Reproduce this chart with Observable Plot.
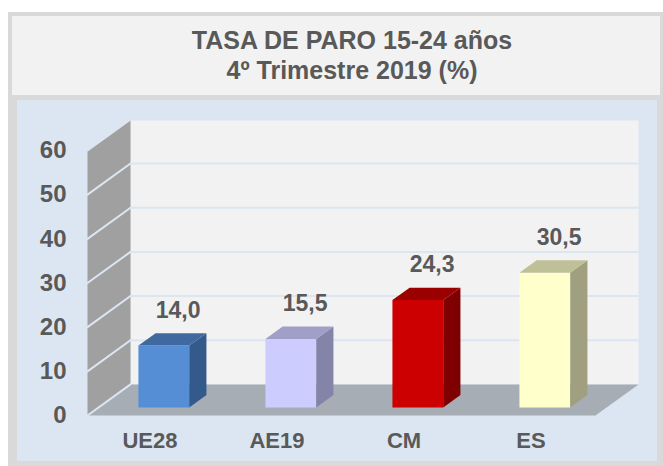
<!DOCTYPE html>
<html><head><meta charset="utf-8">
<script src="https://cdn.jsdelivr.net/npm/d3@7"></script>
<script src="https://cdn.jsdelivr.net/npm/@observablehq/plot@0.6"></script>
<style>
html,body{margin:0;padding:0;background:#fff;overflow:hidden}
#wrap{position:relative;width:663px;height:466px;font-family:"Liberation Sans",Arial,sans-serif}
#frame{position:absolute;left:8px;top:12px;right:0;bottom:0;background:#d9d9d9}
#title{position:absolute;left:12px;top:16px;width:648px;height:79px;background:#f2f2f2;color:#595959;
 font-weight:bold;font-size:25px;line-height:30px;text-align:center;box-sizing:border-box;padding-top:9px;padding-left:32px}
#panel{position:absolute;left:17px;top:100px;width:640px;height:361px;background:#dce6f2}
svg{display:block;background:transparent}
</style></head><body>
<div id="wrap"><div id="frame"></div>
<div id="title">TASA DE PARO 15-24 años<br>4º Trimestre 2019 (%)</div>
<div id="panel"></div></div>
<script>
const categories = ["UE28","AE19","CM","ES"];
const values = [14.0,15.5,24.3,30.5];
const valueLabels = ["14,0","15,5","24,3","30,5"];
const yTicks = [0,10,20,30,40,50,60];
const frontColors = ["#558ed5","#ccccff","#cc0000","#ffffcc"];
const topColors = ["#40699f","#9f9fc8","#9b0000","#c0c098"];
const sideColors = ["#335a8a","#8484a8","#7f0000","#a0a080"];

// Oblique projection: depth z (0 front, 1 back) shifts a point in data units.
const depthX = 43/127, depthY = 31/4.4;
const P = (x,v,z) => ({x: x + z*depthX, y: v + z*depthY});
const poly = (pts, fill) => Plot.line(pts.map(p => P(...p)), {x:"x", y:"y", fill, stroke:"none"});
const seg = (a,b,stroke,w) => Plot.line([P(...a),P(...b)], {x:"x", y:"y", stroke, strokeWidth:w});

const barL = 0.313, barR = 0.713, z0 = 0.26, z1 = 0.66;
const grid = "#dce6f2";
const marks = [
  poly([[0,0,1],[4,0,1],[4,60,1],[0,60,1]], "#f2f2f2"),
  poly([[0,0,0],[0,0,1],[0,60,1],[0,60,0]], "#a0a0a0"),
  poly([[0,0,0],[4,0,0],[4,0,1],[0,0,1]], "#a6adb5"),
];
for (const v of yTicks.slice(1)) {
  marks.push(seg([0,v,1],[4,v,1],grid,2));
}
for (const v of yTicks) {
  marks.push(seg([0,v,0],[0,v,1],grid,2));
}
categories.forEach((c,i) => {
  const a = i+barL, b = i+barR, v = values[i];
  marks.push(poly([[a,0,z0],[b,0,z0],[b,v,z0],[a,v,z0]], frontColors[i]));
  marks.push(poly([[b,0,z0],[b,0,z1],[b,v,z1],[b,v,z0]], sideColors[i]));
  marks.push(poly([[a,v,z0],[b,v,z0],[b,v,z1],[a,v,z1]], topColors[i]));
});
marks.push(Plot.text(categories.map((c,i)=>({...P(i+(barL+barR)/2,values[i],z1),t:valueLabels[i]})),
  {x:"x",y:"y",text:"t",dx:-3,dy:-23,fontSize:23,fontWeight:"bold",fill:"#595959",fontFamily:"Liberation Sans"}));
marks.push(Plot.axisY({ticks:yTicks,tickSize:0,tickPadding:21,label:null,fontSize:24,fontWeight:"bold",color:"#595959",fontFamily:"Liberation Sans"}));
marks.push(Plot.axisX({ticks:categories.map((c,i)=>i+0.5),tickFormat:(d)=>categories[Math.floor(d)],tickSize:0,tickPadding:17,dx:-1,label:null,fontSize:22,fontWeight:"bold",color:"#595959",fontFamily:"Liberation Sans"}));

const chart = Plot.plot({
  width:640,height:361,
  marginLeft:70,marginRight:62,marginTop:50,marginBottom:46,
  style:{background:"transparent",overflow:"visible"},
  x:{domain:[0,4]},
  y:{domain:[0,60]},
  marks
});
document.getElementById("panel").appendChild(chart);
</script></body></html>
